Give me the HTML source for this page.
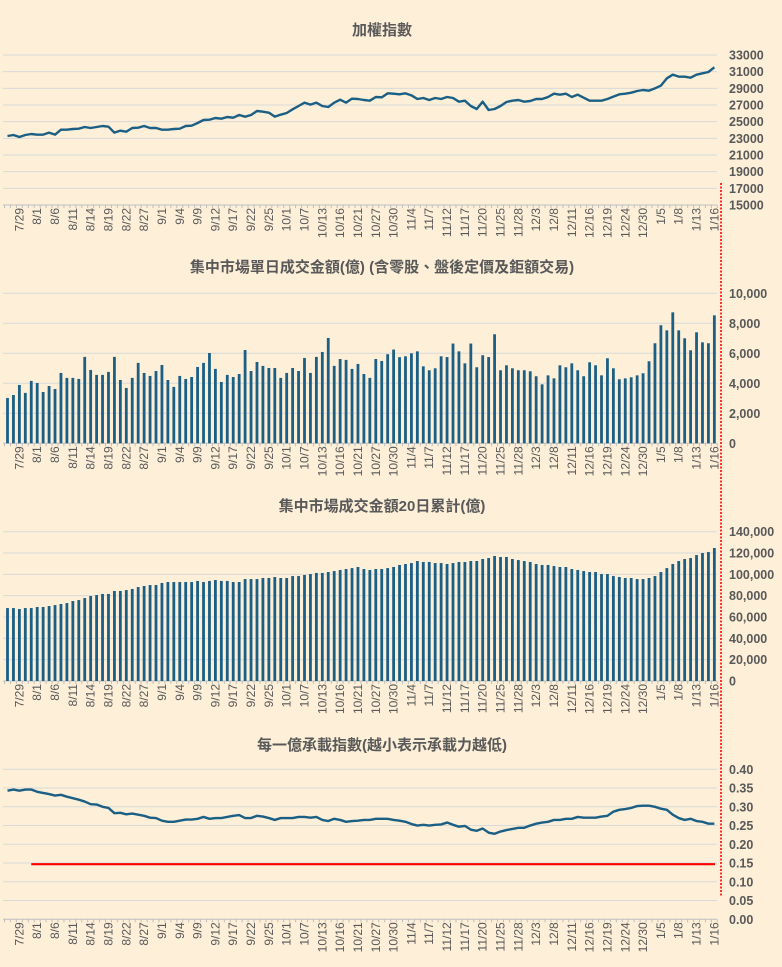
<!DOCTYPE html>
<html><head><meta charset="utf-8">
<style>
html,body{margin:0;padding:0;background:#fdefd8;}
svg{display:block;font-family:"Liberation Sans","Noto Sans CJK TC",sans-serif;}
</style></head>
<body>
<svg id="c" width="782" height="967" viewBox="0 0 782 967" xmlns="http://www.w3.org/2000/svg">
<rect width="782" height="967" fill="#fdefd8"/>
</svg>
<script>
const dateLabels=["7/29","8/1","8/6","8/11","8/14","8/19","8/22","8/27","9/1","9/4","9/9","9/12","9/17","9/22","9/25","10/1","10/7","10/13","10/16","10/21","10/27","10/30","11/4","11/7","11/12","11/17","11/20","11/25","11/28","12/3","12/8","12/11","12/16","12/19","12/24","12/30","1/5","1/8","1/13","1/16"];
const taiex=[23280,23400,23160,23400,23520,23440,23440,23680,23440,24040,24040,24120,24160,24360,24240,24360,24480,24400,23680,23920,23800,24240,24280,24480,24240,24240,24040,24040,24120,24160,24480,24520,24840,25200,25240,25440,25360,25560,25480,25800,25600,25800,26280,26200,26080,25600,25840,26040,26480,26880,27280,27040,27280,26880,26760,27280,27640,27280,27760,27720,27600,27520,27960,27920,28400,28360,28280,28400,28160,27720,27840,27600,27840,27720,27960,27840,27400,27520,26880,26520,27400,26400,26520,26880,27360,27520,27600,27400,27480,27720,27720,27960,28360,28240,28360,27960,28240,27880,27520,27520,27520,27720,28000,28280,28360,28480,28680,28800,28720,29000,29320,30200,30640,30400,30400,30280,30640,30800,30960,31520];
const dailyVol=[3020,3220,3890,3360,4160,4020,3420,3820,3620,4690,4360,4360,4290,5760,4890,4560,4560,4760,5760,4220,3690,4360,5360,4690,4490,4820,5220,4220,3760,4490,4290,4420,5090,5360,6020,4960,4090,4560,4420,4620,6220,4820,5420,5160,5020,5020,4360,4690,5020,4820,5690,4690,5760,6090,7020,5160,5620,5560,4960,5290,4620,4360,5620,5490,5940,6250,5740,5800,6000,6130,5130,4870,5000,5800,5750,6650,6130,5330,6650,5070,5870,5750,7270,4870,5200,5000,4870,4870,4800,4470,3930,4530,4330,5200,5070,5330,4870,4470,5400,5200,4530,5670,5000,4270,4330,4400,4530,4670,5470,6670,7870,7530,8730,7530,7000,6200,7400,6730,6670,8530];
const vol20=[68400,68400,67500,68400,68400,69400,69400,70300,71200,72200,73100,75000,75900,77800,79700,80600,81600,81600,84400,84400,85300,86300,88100,89100,90000,90000,91900,92800,92800,92800,92800,92800,93800,92800,93800,94700,93800,93800,92800,92800,95600,95600,95600,96600,96600,97500,96600,96600,98400,98400,99400,100300,101300,101300,102200,103100,104100,105000,105900,106900,105000,104100,105000,105000,105900,106900,108800,109700,110600,112500,111600,111600,110600,110600,109700,110600,111600,111600,112500,112500,114400,115300,117200,116300,116300,114400,113400,112500,111600,109700,108800,108800,107800,106900,106900,105000,104100,103100,102200,102200,100300,100300,98400,97500,96600,96600,95600,95600,96600,98400,102200,105900,109700,112500,114400,115300,118100,120000,120900,124700];
const loadIdx=[.343,.346,.343,.346,.346,.340,.337,.334,.330,.332,.327,.323,.319,.314,.307,.306,.300,.297,.283,.284,.280,.282,.279,.276,.271,.270,.263,.260,.260,.263,.266,.266,.268,.273,.268,.270,.270,.273,.276,.278,.270,.270,.276,.274,.270,.265,.270,.270,.270,.273,.273,.271,.273,.265,.262,.268,.265,.260,.262,.263,.265,.265,.268,.268,.268,.265,.263,.260,.254,.250,.252,.250,.252,.253,.258,.252,.247,.249,.239,.236,.242,.231,.228,.234,.238,.241,.244,.244,.250,.255,.258,.260,.265,.265,.268,.268,.273,.271,.271,.271,.274,.276,.287,.292,.294,.297,.302,.303,.303,.300,.295,.292,.279,.270,.265,.268,.262,.260,.255,.255];
const threshold=0.147;
const thresholdStart=4;
const ticks1=[15000,17000,19000,21000,23000,25000,27000,29000,31000,33000];
const ticks2=[0,2000,4000,6000,8000,10000];
const ticks3=[0,20000,40000,60000,80000,100000,120000,140000];
const ticks4=[0,0.05,0.10,0.15,0.20,0.25,0.30,0.35,0.40];

const NS="http://www.w3.org/2000/svg";
const svg=document.getElementById('c');
const BLUE="#1b5f85",GRID="#d9d9d9",TXT="#595959";
const N=120;
function xPos(i){return 7.5+i*5.94;}
function mk(tag,attrs,parent){const e=document.createElementNS(NS,tag);for(const k in attrs)e.setAttribute(k,attrs[k]);(parent||svg).appendChild(e);return e;}

function panel(name,title,titleY,yTop,yBot,ticks,fmt){
  const g=mk('g',{});
  
  
  const mn=ticks[0],mx=ticks[ticks.length-1];
  const ys=v=>yBot-(v-mn)/(mx-mn)*(yBot-yTop);
  const t=mk('text',{x:382,y:titleY,'text-anchor':'middle','font-size':15,'font-weight':'bold',fill:TXT},g);
  t.textContent=title;
  
  
  ticks.forEach(v=>{
    const y=ys(v);
    if(v!==mn){const l=mk('line',{x1:3,x2:717,y1:y,y2:y,stroke:GRID,'stroke-width':1},g);
      
      }
    const tx=mk('text',{x:729,y:y+4.5,'font-size':12.5,'font-weight':'bold',fill:TXT},g);
    tx.textContent=fmt(v);
    
    
  });
  const ax=mk('line',{x1:3,x2:717,y1:yBot,y2:yBot,stroke:"#bfbfbf",'stroke-width':1},g);
  
  
  for(let i=0;i<=N;i++){const xx=xPos(i)-2.97;mk('line',{x1:xx,x2:xx,y1:yBot,y2:yBot+3,stroke:"#bfbfbf",'stroke-width':1},g);}
  dateLabels.forEach((lb,k)=>{
    const x=xPos(2+3*k)+4;
    const tx=mk('text',{x:x,y:yBot+3,'font-size':12,fill:TXT,'text-anchor':'end',transform:`rotate(-90 ${x} ${yBot+3})`},g);
    tx.textContent=lb;
    
    
  });
  return {g,ys};
}
function line(p,data,name){
  const d=data.map((v,i)=>(i?'L':'M')+xPos(i).toFixed(2)+','+p.ys(v).toFixed(2)).join('');
  const l=mk('path',{d:d,fill:'none',stroke:BLUE,'stroke-width':2.4,'stroke-linejoin':'round'},p.g);
  
  
}
function bars(p,data,name){
  const y0=p.ys(0);
  data.forEach((v,i)=>{
    const y=p.ys(v);
    const r=mk('rect',{x:xPos(i)-1.4,y:y,width:2.8,height:y0-y,fill:BLUE},p.g);
    
    
  });
}
const f0=v=>String(v), fc=v=>v.toLocaleString('en-US'), f2=v=>v.toFixed(2);
const p1=panel('taiex-chart','加權指數',35,55,205,ticks1,f0);
line(p1,taiex,'taiex-line');
const p2=panel('daily-volume-chart','集中市場單日成交金額(億) (含零股、盤後定價及鉅額交易)',272,293.3,443.3,ticks2,fc);
bars(p2,dailyVol,'daily-volume-bar');
const p3=panel('volume-20d-chart','集中市場成交金額20日累計(億)',511,531.7,681,ticks3,fc);
bars(p3,vol20,'volume-20d-bar');
const p4=panel('load-index-chart','每一億承載指數(越小表示承載力越低)',750,769.3,919.3,ticks4,f2);
line(p4,loadIdx,'load-index-line');
const ty=p4.ys(threshold);
const th=mk('line',{x1:xPos(thresholdStart),x2:715,y1:ty,y2:ty,stroke:'#ff0000','stroke-width':2.2},p4.g);


const vl=mk('line',{x1:721,x2:721,y1:183,y2:897,stroke:'#ff0000','stroke-width':1.6,'stroke-dasharray':'2,1.5'});


</script>
</body></html>
